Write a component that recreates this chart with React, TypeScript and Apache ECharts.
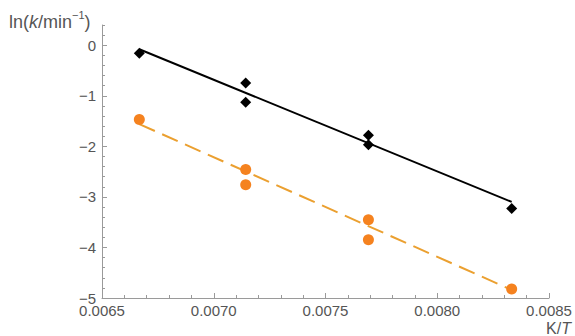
import React, { useEffect, useRef } from "react";
import * as echarts from "echarts";

// reciprocal temperatures K/T
const invT = [0.006667, 0.007143, 0.007143, 0.007692, 0.007692, 0.008333];
// ln(k) values, black diamonds
const blackVals = [-0.16, -0.745, -1.13, -1.78, -1.97, -3.23];
// ln(k) values, orange circles
const orangeVals = [-1.47, -2.46, -2.76, -3.45, -3.85, -4.82];
// fitted line endpoints
const fitX = [0.006667, 0.008333];
const blackFit = [-0.08, -3.1];
const orangeFit = [-1.56, -4.84];

const yMajorTicks = [-5, -4, -3, -2, -1, 0];

const FONT = "Liberation Sans";
const AXIS_COLOR = "#9a9a9a";
const LABEL_COLOR = "#555555";

export default function App() {
  const ref = useRef<HTMLDivElement>(null);
  useEffect(() => {
    if (!ref.current) return;
    const chart = echarts.init(ref.current, undefined, { renderer: "svg" });
    const grid = { left: 102, right: 26, top: 25, bottom: 38 };
    chart.setOption({
      animation: false,
      grid,
      xAxis: [
        {
          type: "value",
          min: 0.0065,
          max: 0.0085,
          interval: 0.0005,
          position: "bottom",
          axisLine: { show: true, onZero: false, lineStyle: { color: AXIS_COLOR, width: 1 } },
          axisTick: { show: true, inside: true, length: 5, lineStyle: { color: AXIS_COLOR } },
          axisLabel: {
            color: LABEL_COLOR,
            fontFamily: FONT,
            fontSize: 15,
            margin: 5,
            formatter: (v: number) => v.toFixed(4),
          },
          splitLine: { show: false },
        },
        {
          type: "value",
          min: 0.0065,
          max: 0.0085,
          interval: 0.0001,
          position: "bottom",
          offset: 0,
          axisLine: { show: false, onZero: false },
          axisTick: { show: true, inside: true, length: 3, lineStyle: { color: AXIS_COLOR } },
          axisLabel: { show: false },
          splitLine: { show: false },
        },
      ],
      yAxis: [
        {
          type: "value",
          min: -5,
          max: 0.4,
          interval: 1,
          position: "left",
          axisLine: { show: true, onZero: false, lineStyle: { color: AXIS_COLOR, width: 1 } },
          axisTick: {
            show: true,
            inside: true,
            length: 5,
            customValues: yMajorTicks,
            lineStyle: { color: AXIS_COLOR },
          },
          axisLabel: {
            color: LABEL_COLOR,
            fontFamily: FONT,
            fontSize: 15,
            margin: 6,
            customValues: yMajorTicks,
            formatter: (v: number) =>
              v < 0 ? "\u2212" + Math.abs(Math.round(v)) : String(Math.round(v)),
          },
          splitLine: { show: false },
        },
        {
          type: "value",
          min: -5,
          max: 0.4,
          interval: 0.2,
          position: "left",
          offset: 0,
          axisLine: { show: false, onZero: false },
          axisTick: { show: true, inside: true, length: 3, lineStyle: { color: AXIS_COLOR } },
          axisLabel: { show: false },
          splitLine: { show: false },
        },
      ],
      graphic: [
        {
          type: "text",
          left: 9,
          top: 9,
          style: {
            text: "{n|ln(}{i|k}{n|/min}{s|\u22121}{n|)}",
            fill: LABEL_COLOR,
            rich: {
              n: { fontFamily: FONT, fontSize: 18, fill: LABEL_COLOR, verticalAlign: "bottom", lineHeight: 22 },
              i: { fontFamily: FONT, fontSize: 18, fontStyle: "italic", fill: LABEL_COLOR, verticalAlign: "bottom", lineHeight: 22 },
              s: { fontFamily: FONT, fontSize: 11, fill: LABEL_COLOR, verticalAlign: "top", lineHeight: 14 },
            },
          },
        },
        {
          type: "text",
          right: 4,
          bottom: 0,
          style: {
            text: "{n|K/}{i|T}",
            fill: LABEL_COLOR,
            rich: {
              n: { fontFamily: FONT, fontSize: 16, fill: LABEL_COLOR, lineHeight: 16 },
              i: { fontFamily: FONT, fontSize: 16, fontStyle: "italic", fill: LABEL_COLOR, lineHeight: 16 },
            },
          },
        },
      ],
      series: [
        {
          type: "line",
          data: fitX.map((x, i) => [x, blackFit[i]]),
          showSymbol: false,
          symbol: "none",
          lineStyle: { color: "#000000", width: 2 },
          z: 2,
        },
        {
          type: "line",
          data: fitX.map((x, i) => [x, orangeFit[i]]),
          showSymbol: false,
          symbol: "none",
          lineStyle: { color: "#EBA030", width: 2, type: [17, 8] },
          z: 2,
        },
        {
          type: "scatter",
          data: invT.map((x, i) => [x, blackVals[i]]),
          symbol: "diamond",
          symbolSize: 11,
          itemStyle: { color: "#000000", opacity: 1 },
          z: 3,
        },
        {
          type: "scatter",
          data: invT.map((x, i) => [x, orangeVals[i]]),
          symbol: "circle",
          symbolSize: 11,
          itemStyle: { color: "#F5821F", opacity: 1 },
          z: 3,
        },
      ],
    });
    return () => chart.dispose();
  }, []);
  return (
    <div
      ref={ref}
      style={{ position: "fixed", left: 0, top: 0, width: 575, height: 336, background: "#ffffff" }}
    />
  );
}
